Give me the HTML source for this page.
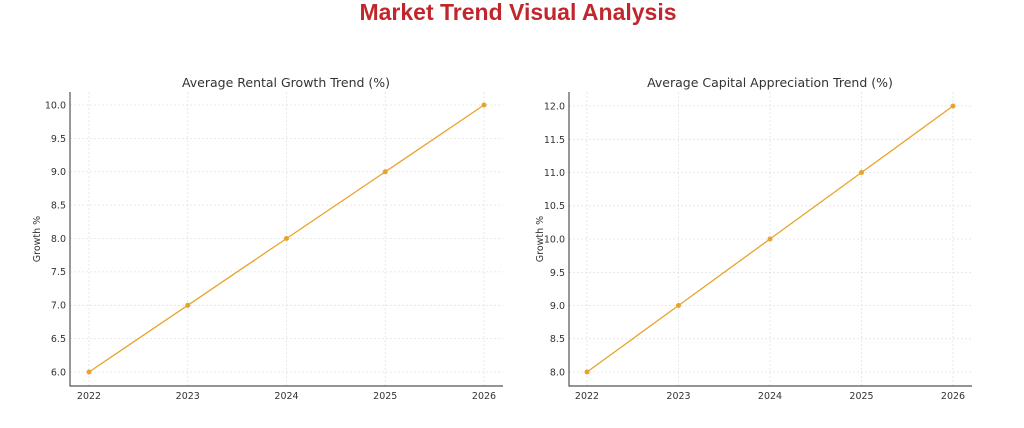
<!DOCTYPE html>
<html><head><style>body{margin:0;background:#fff}svg{display:block}</style></head><body>
<svg width="1024" height="428" xmlns="http://www.w3.org/2000/svg" font-family="DejaVu Sans, Liberation Sans, sans-serif">
<text x="518" y="20" text-anchor="middle" font-family="Liberation Sans, sans-serif" font-weight="bold" font-size="23" fill="#c0272d">Market Trend Visual Analysis</text>
<g id="L">
<text x="286" y="87" text-anchor="middle" font-size="12.5" fill="#333">Average Rental Growth Trend (%)</text>
<g stroke="#e2e2e2" stroke-width="0.8" stroke-dasharray="2,2">
<line x1="70" x2="503" y1="105" y2="105"/><line x1="70" x2="503" y1="138.4" y2="138.4"/><line x1="70" x2="503" y1="171.8" y2="171.8"/><line x1="70" x2="503" y1="205.1" y2="205.1"/><line x1="70" x2="503" y1="238.5" y2="238.5"/><line x1="70" x2="503" y1="271.9" y2="271.9"/><line x1="70" x2="503" y1="305.3" y2="305.3"/><line x1="70" x2="503" y1="338.6" y2="338.6"/><line x1="70" x2="503" y1="372" y2="372"/>
<line x1="89" x2="89" y1="92" y2="386"/><line x1="187.75" x2="187.75" y1="92" y2="386"/><line x1="286.5" x2="286.5" y1="92" y2="386"/><line x1="385.25" x2="385.25" y1="92" y2="386"/><line x1="484" x2="484" y1="92" y2="386"/>
</g>
<path d="M70 92V386H503" fill="none" stroke="#555" stroke-width="1.2"/>
<g font-size="9.5" fill="#333" text-anchor="end">
<text x="66" y="108.5">10.0</text><text x="66" y="142">9.5</text><text x="66" y="175">9.0</text><text x="66" y="208.5">8.5</text><text x="66" y="242">8.0</text><text x="66" y="275">7.5</text><text x="66" y="308.5">7.0</text><text x="66" y="342">6.5</text><text x="66" y="375.5">6.0</text>
</g>
<g font-size="9.5" fill="#333" text-anchor="middle">
<text x="89" y="399">2022</text><text x="187.75" y="399">2023</text><text x="286.5" y="399">2024</text><text x="385.25" y="399">2025</text><text x="484" y="399">2026</text>
</g>
<text transform="translate(40,239) rotate(-90)" text-anchor="middle" font-size="9.5" fill="#333">Growth %</text>
<polyline points="89,372 187.75,305.3 286.5,238.5 385.25,171.8 484,105" fill="none" stroke="#e8a32a" stroke-width="1.3"/>
<g fill="#e8a32a"><circle cx="89" cy="372" r="2.5"/><circle cx="187.75" cy="305.3" r="2.5"/><circle cx="286.5" cy="238.5" r="2.5"/><circle cx="385.25" cy="171.8" r="2.5"/><circle cx="484" cy="105" r="2.5"/></g>
</g>
<g id="R">
<text x="770" y="87" text-anchor="middle" font-size="12.5" fill="#333">Average Capital Appreciation Trend (%)</text>
<g stroke="#e2e2e2" stroke-width="0.8" stroke-dasharray="2,2">
<line x1="569" x2="972" y1="106" y2="106"/><line x1="569" x2="972" y1="139.3" y2="139.3"/><line x1="569" x2="972" y1="172.5" y2="172.5"/><line x1="569" x2="972" y1="205.8" y2="205.8"/><line x1="569" x2="972" y1="239" y2="239"/><line x1="569" x2="972" y1="272.3" y2="272.3"/><line x1="569" x2="972" y1="305.5" y2="305.5"/><line x1="569" x2="972" y1="338.8" y2="338.8"/><line x1="569" x2="972" y1="372" y2="372"/>
<line x1="587" x2="587" y1="92" y2="386"/><line x1="678.5" x2="678.5" y1="92" y2="386"/><line x1="770" x2="770" y1="92" y2="386"/><line x1="861.5" x2="861.5" y1="92" y2="386"/><line x1="953" x2="953" y1="92" y2="386"/>
</g>
<path d="M569 92V386H972" fill="none" stroke="#555" stroke-width="1.2"/>
<g font-size="9.5" fill="#333" text-anchor="end">
<text x="565" y="109.5">12.0</text><text x="565" y="143">11.5</text><text x="565" y="176">11.0</text><text x="565" y="209">10.5</text><text x="565" y="242.5">10.0</text><text x="565" y="276">9.5</text><text x="565" y="309">9.0</text><text x="565" y="342">8.5</text><text x="565" y="375.5">8.0</text>
</g>
<g font-size="9.5" fill="#333" text-anchor="middle">
<text x="587" y="399">2022</text><text x="678.5" y="399">2023</text><text x="770" y="399">2024</text><text x="861.5" y="399">2025</text><text x="953" y="399">2026</text>
</g>
<text transform="translate(543,239) rotate(-90)" text-anchor="middle" font-size="9.5" fill="#333">Growth %</text>
<polyline points="587,372 678.5,305.5 770,239 861.5,172.5 953,106" fill="none" stroke="#e8a32a" stroke-width="1.3"/>
<g fill="#e8a32a"><circle cx="587" cy="372" r="2.5"/><circle cx="678.5" cy="305.5" r="2.5"/><circle cx="770" cy="239" r="2.5"/><circle cx="861.5" cy="172.5" r="2.5"/><circle cx="953" cy="106" r="2.5"/></g>
</g>
</svg>
</body></html>
